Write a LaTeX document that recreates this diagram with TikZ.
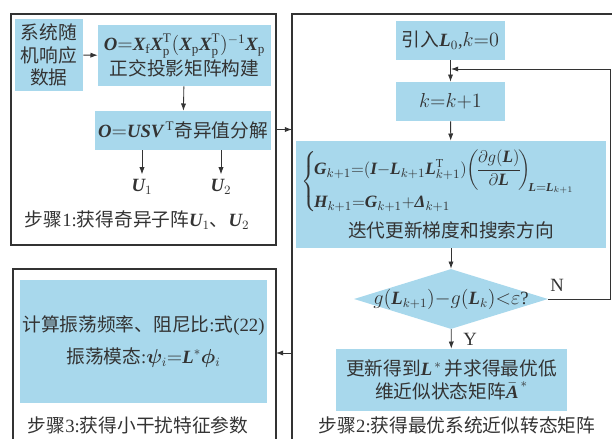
\documentclass[tikz,border=0pt]{standalone}
\usepackage{amsmath,bm}
\usepackage{fontspec}
\setmainfont{Liberation Serif}
\newfontfamily\cjk{Noto Sans CJK SC}
\usetikzlibrary{arrows.meta,positioning,shapes.geometric}
\definecolor{flowblue}{HTML}{A8D8EC}
\definecolor{flowink}{HTML}{333333}
\newcommand{\lat}[1]{{\rmfamily #1}}
\newcommand{\mb}[1]{\text{\rmfamily\bfseries\itshape #1}}

\begin{document}
\begin{tikzpicture}[x=0.025cm,y=-0.025cm,
 every node/.style={font=\cjk\fontsize{13.3}{16}\selectfont,text=flowink},
 box/.style={fill=flowblue,inner sep=2pt,align=center},
 frame/.style={draw=flowink,line width=0.8pt},
 arr/.style={-{Latex[length=1.8mm,width=1.3mm]},draw=flowink,line width=0.6pt}]
\useasboundingbox (0,0) rectangle (612,439);
% step 1
\node[frame,minimum width=6.625cm,minimum height=5.775cm] (stage1) at (143.5,129.5) {};
\node[box,minimum width=1.7cm,minimum height=1.8cm] (data) at (49,55) {系统随\\机响应\\数据};
\node[box,minimum width=4.325cm,minimum height=1.525cm] (proj) at (184.5,55.5)
 {$\mb{O}{=}\mb{X}_{\mathrm{f}}\mb{X}_{\mathrm{p}}^{\mathrm{T}}(\mb{X}_{\mathrm{p}}\mb{X}_{\mathrm{p}}^{\mathrm{T}})^{\mathrm{-1}}\mb{X}_{\mathrm{p}}$\\正交投影矩阵构建};
\node[box,minimum width=4.3cm,minimum height=0.975cm] (svd) at (183,130.5) {$\mb{O}{=}\mb{USV}^{\,\mathrm{T}}$奇异值分解};
\node (u1) at (142,187) {$\mb{U}_1$};
\node (u2) at (221,187) {$\mb{U}_2$};
\node[anchor=west] (lab1) at (20,220) {步骤\lat{1:}获得奇异子阵$\mb{U}_1$、$\mb{U}_2$};
\draw[arr] (data) -- (proj);
\draw[arr] (proj) -- (svd);
\draw[arr] (svd.south -| u1) -- (u1);
\draw[arr] (svd.south -| u2) -- (u2);
% step 2
\draw[frame] (612,14) -- (292,14) -- (292,439);
\coordinate (s2edge) at (292,353);
\coordinate (join) at (451,69);
\coordinate (corner) at (610,69);
\node[box,minimum width=2.725cm,minimum height=0.975cm] (init) at (450.5,40.5) {引入$\mb{L}_0$\lat{,}$k{=}0$};
\node[box,minimum width=2.725cm,minimum height=0.975cm] (incr) at (450.5,101.5) {$k{=}k{+}1$};
\node[box,minimum width=7.75cm,minimum height=2.675cm,text width=7.45cm] (grad) at (451,194.5)
 {\makebox[7.45cm][l]{\fontsize{12.3}{14}\selectfont$\left\{\!\begin{array}{@{}l@{}}
 \mb{G}_{k+1}{=}(\mb{I}{-}\mb{L}_{k+1}\mb{L}_{k+1}^{\mathrm{T}})\!\left(\!\dfrac{\partial g(\mb{L})}{\partial\mb{L}}\!\right)_{\!\mb{L}{=}\mb{L}_{\scriptscriptstyle k+1}}\\[3pt]
 \mb{H}_{k+1}{=}\mb{G}_{k+1}{+}\mb{Δ}_{k+1}
 \end{array}\right.$}\\[5pt]迭代更新梯度和搜索方向};
\node[box,diamond,inner sep=0pt,minimum width=4.85cm,minimum height=1.5cm] (cond) at (451,299)
 {\makebox[0pt]{$g(\mb{L}_{k+1}){-}g(\mb{L}_k){<}\varepsilon$\lat{?}}};
\node[box,minimum width=5.775cm,minimum height=1.55cm] (result) at (451.5,380)
 {更新得到$\mb{L}^{\,*}$\,并求得最优低\\维近似状态矩阵$\bar{\mb{A}}^{\,*}$};
\node (lab2) at (457,425) {步骤\lat{2:}获得最优系统近似转态矩阵};
\node (no) at (557,285) {\lat{N}};
\draw[arr] (init) -- (incr);
\draw[arr] (incr) -- (grad);
\draw[arr] (grad) -- (cond);
\draw[arr] (cond) -- (result) node[midway,right=5pt] (yes) {\lat{Y}};
\draw[arr] (cond.east) -| (corner) -- (join);
% step 3
\draw[frame] (13,439) -- (13,269) -- (276,269) -- (276,439);
\coordinate (s3edge) at (276,353);
\node[box,minimum width=6.125cm,minimum height=3.075cm] (modes) at (143.5,341.5)
 {计算振荡频率、阻尼比\lat{:}式\lat{(22)}\\[7pt]振荡模态\lat{:}$\bm{\psi}_i{=}\mb{L}^*\bm{\phi}_i$};
\node[anchor=west] (lab3) at (23,425) {步骤\lat{3:}获得小干扰特征参数};
\draw[arr] (stage1.east) -- (stage1.east -| s2edge);
\draw[arr] (s2edge) -- (s3edge);
\end{tikzpicture}
\end{document}
